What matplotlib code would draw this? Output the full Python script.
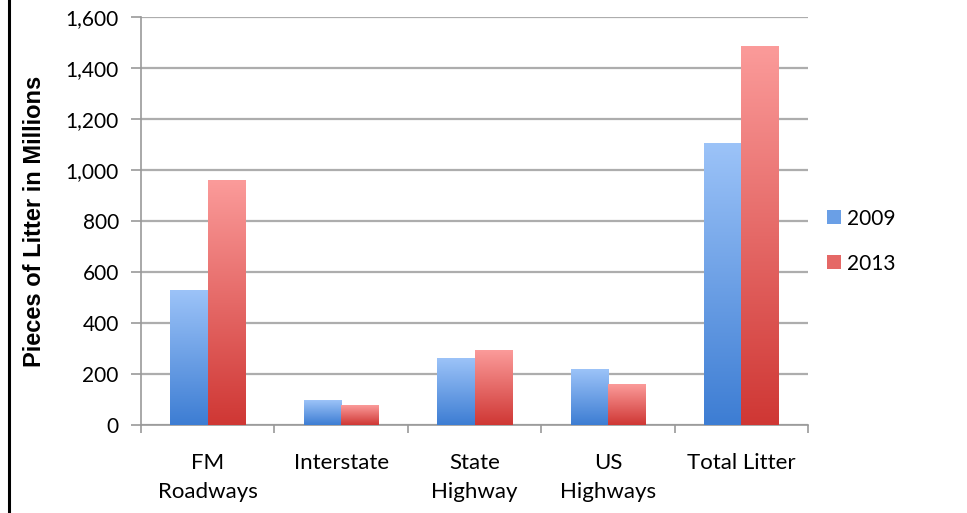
import matplotlib
matplotlib.use("Agg")
import matplotlib.pyplot as plt
import numpy as np
from matplotlib.colors import LinearSegmentedColormap
from matplotlib.patches import Patch
from matplotlib.lines import Line2D

categories = ["FM\nRoadways", "Interstate", "State\nHighway", "US\nHighways", "Total Litter"]
litter_2009 = [529, 96, 262, 216, 1102]
litter_2013 = [957, 78, 293, 157, 1483]
years = ["2009", "2013"]
y_ticks = [0, 200, 400, 600, 800, 1000, 1200, 1400, 1600]

blue_cmap = LinearSegmentedColormap.from_list("b", ["#3d7dd3", "#9cc3f8"])
red_cmap = LinearSegmentedColormap.from_list("r", ["#cf3734", "#fb9b9a"])

fig = plt.figure(figsize=(9.67, 5.13), dpi=100)
ax = fig.add_axes([0.1458, 0.1715, 0.6898, 0.7954])

x = np.arange(len(categories))
w = 0.28
bars1 = ax.bar(x - w / 2, litter_2009, w, facecolor="none", edgecolor="none", zorder=3)
bars2 = ax.bar(x + w / 2, litter_2013, w, facecolor="none", edgecolor="none", zorder=3)

# gradient fill per bar, dark at the bottom
grad = np.linspace(0, 1, 256).reshape(-1, 1)
for bars, cmap in [(bars1, blue_cmap), (bars2, red_cmap)]:
    for b in bars:
        x0, y0 = b.get_x(), b.get_y()
        ax.imshow(grad, cmap=cmap, origin="lower", aspect="auto",
                  extent=(x0, x0 + b.get_width(), y0, y0 + b.get_height()), zorder=3)

ax.set_xlim(-0.5, len(categories) - 0.5)
ax.set_ylim(0, 1600)
ax.set_yticks(y_ticks)
ax.set_yticklabels(["{:,}".format(v) for v in y_ticks])
ax.yaxis.grid(True, color="#adadad", linewidth=1.6, zorder=0)
ax.set_axisbelow(True)

ax.set_xticks(x)
ax.set_xticklabels(categories, family="Lato", fontsize=16, linespacing=1.6, va="top")
ax.set_xticks(np.arange(len(categories) + 1) - 0.5, minor=True)
ax.tick_params(axis="x", which="major", length=0, pad=20)
ax.tick_params(axis="x", which="minor", length=6, color="#999999", width=1.2)
ax.tick_params(axis="y", length=7, color="#999999", width=1.2, pad=9)
for lab in ax.get_yticklabels():
    lab.set_family("Lato")
    lab.set_fontsize(15)

for s in ["top", "right"]:
    ax.spines[s].set_visible(False)
for s in ["left", "bottom"]:
    ax.spines[s].set_color("#999999")
    ax.spines[s].set_linewidth(1.2)

ax.set_ylabel("Pieces of Litter in Millions", family="Liberation Sans", fontweight="bold",
              fontsize=17, labelpad=14)

handles = [Patch(facecolor="#6a9fe6", edgecolor="none"), Patch(facecolor="#e56866", edgecolor="none")]
fig.legend(handles, years, loc="center left", bbox_to_anchor=(0.836, 0.53), frameon=False,
           prop={"family": "Lato", "size": 15}, handlelength=0.65, handleheight=0.65,
           handletextpad=0.3, labelspacing=1.2)

fig.add_artist(Line2D([0.0095, 0.0095], [0, 1], color="black", linewidth=2.2, transform=fig.transFigure))

fig.savefig("out.png", dpi=100)
